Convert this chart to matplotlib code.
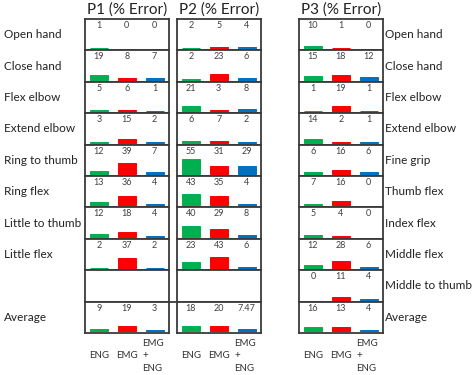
import matplotlib
matplotlib.use("Agg")
import matplotlib.pyplot as plt
from matplotlib.lines import Line2D
from matplotlib.transforms import blended_transform_factory

plt.rcParams['font.family'] = ['Lato', 'DejaVu Sans']

# data (None = empty cell)
left_labels = ["Open hand", "Close hand", "Flex elbow", "Extend elbow", "Ring to thumb",
               "Ring flex", "Little to thumb", "Little flex", "", "Average"]
right_labels = ["Open hand", "Close hand", "Flex elbow", "Extend elbow", "Fine grip",
                "Thumb flex", "Index flex", "Middle flex", "Middle to thumb", "Average"]
titles = ["P1 (% Error)", "P2 (% Error)", "P3 (% Error)"]

p1_eng = [1, 19, 5, 3, 12, 13, 12, 2, None, 9]
p1_emg = [0, 8, 6, 15, 39, 36, 18, 37, None, 19]
p1_both = [0, 7, 1, 2, 7, 4, 4, 2, None, 3]
p2_eng = [2, 2, 21, 6, 55, 43, 40, 23, None, 18]
p2_emg = [5, 23, 3, 7, 31, 35, 29, 43, None, 20]
p2_both = [4, 6, 8, 2, 29, 4, 8, 6, None, 7.47]
p3_eng = [10, 15, 1, 14, 6, 7, 5, 12, 0, 16]
p3_emg = [1, 18, 19, 2, 16, 16, 4, 28, 11, 13]
p3_both = [0, 12, 1, 1, 6, 0, 0, 6, 4, 4]

panels = [(p1_eng, p1_emg, p1_both), (p2_eng, p2_emg, p2_both), (p3_eng, p3_emg, p3_both)]
colors = ["#00B050", "#FF0000", "#0070C0"]

W, H = 474, 375
fig = plt.figure(figsize=(W / 100, H / 100), dpi=100)

panel_left = [85, 177, 299]
panel_w = 83.5
top = 19
row_h = 31.4
nrows = 10
spine_col = "#3a3a3a"

def box(x, y, w, h):
    return [x / W, 1 - (y + h) / H, w / W, h / H]

for p, (eng, emg, both) in enumerate(panels):
    x0 = panel_left[p]
    fig.text((x0 + panel_w / 2) / W, 1 - 9.5 / H, titles[p], ha="center", va="center",
             fontsize=11, color="#222222")
    for r in range(nrows):
        ax = fig.add_axes(box(x0, top + r * row_h, panel_w, row_h))
        ax.set_xlim(0.5, 3.5)
        ax.set_ylim(-7.4, 108.8)
        ax.set_xticks([])
        ax.set_yticks([])
        for s in ax.spines.values():
            s.set_color(spine_col)
            s.set_linewidth(1.3)
        vals = [eng[r], emg[r], both[r]]
        for i, v in enumerate(vals):
            if v is None:
                continue
            if v > 0:
                ax.bar(i + 1, v, width=0.65, color=colors[i], edgecolor=colors[i], linewidth=0.7)
            ax.text(i + 1, 0.79, f"{v:g}", transform=blended_transform_factory(ax.transData, ax.transAxes),
                    ha="center", va="center", fontsize=6.5, color="#404040")
        if p == 2:
            ax.text(1.03, 0.5, right_labels[r], transform=ax.transAxes, ha="left", va="center",
                    fontsize=8.5, color="#222222")
        if r == nrows - 1:
            tr = blended_transform_factory(ax.transData, ax.transAxes)
            ax.text(1, -0.73, "ENG", transform=tr, ha="center", va="center", fontsize=7, color="#333333")
            ax.text(2, -0.73, "EMG", transform=tr, ha="center", va="center", fontsize=7, color="#333333")
            ax.text(2.57, -0.73, "EMG\n+\nENG", transform=tr, ha="left", va="center",
                    multialignment="left", linespacing=1.55, fontsize=7, color="#333333")

for r, lab in enumerate(left_labels):
    fig.text(4 / W, 1 - (top + (r + 0.5) * row_h) / H, lab, ha="left", va="center",
             fontsize=8.5, color="#222222")

# line across the gap between P1 and P2 above the Average row
yline = 1 - (top + 9 * row_h) / H
fig.add_artist(Line2D([(panel_left[0] + panel_w) / W, panel_left[1] / W], [yline, yline],
                      color=spine_col, linewidth=1.3))

fig.savefig("out.png", dpi=100)
